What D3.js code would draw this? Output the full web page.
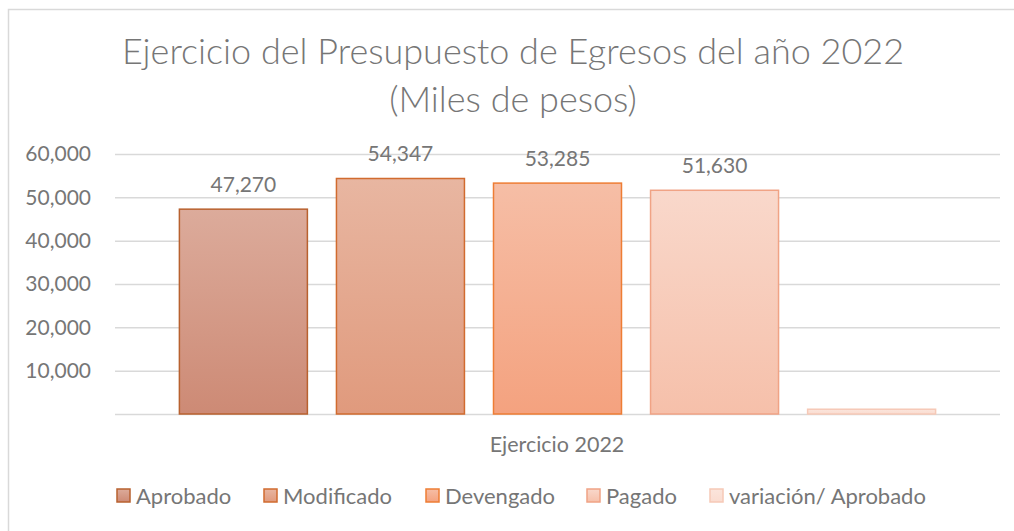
<!DOCTYPE html>
<html>
<head>
<meta charset="utf-8">
<script src="https://cdn.jsdelivr.net/npm/d3@7"></script>
<style>
  body { margin: 0; background: #fff; }
  svg text { font-family: Lato, "Open Sans", sans-serif; fill: #767676; }
</style>
</head>
<body>
<div id="chart"></div>
<script>
const series = ['Aprobado', 'Modificado', 'Devengado', 'Pagado', 'variación/ Aprobado']
const values = [47270, 54347, 53285, 51630, 1100]
const labels = ['47,270', '54,347', '53,285', '51,630', '']
const yTicks = [0, 10000, 20000, 30000, 40000, 50000, 60000]
const category = 'Ejercicio 2022'

const fillTop = ['#dcab9b', '#e8b6a1', '#f6bea6', '#f9d8cb', '#fbe5dc']
const fillBottom = ['#cd8a75', '#e09a7d', '#f4a27f', '#f6c0aa', '#fadcd0']
const strokes = ['#b8612f', '#d16b2f', '#ee7d34', '#f0a385', '#f6c9b7']

const width = 1014
const height = 531

const svg = d3.select('#chart')
    .append('svg')
    .attr('width', width)
    .attr('height', height)

const defs = svg.append('defs')
series.forEach((s, i) => {
    const g = defs.append('linearGradient')
        .attr('id', 'grad' + i)
        .attr('x1', 0).attr('y1', 0).attr('x2', 0).attr('y2', 1)
    g.append('stop').attr('offset', '0%').attr('stop-color', fillTop[i])
    g.append('stop').attr('offset', '100%').attr('stop-color', fillBottom[i])
})

// chart border
svg.append('rect')
    .attr('x', 8.5).attr('y', 9.5)
    .attr('width', 1020).attr('height', 540)
    .attr('fill', 'none')
    .attr('stroke', '#d9d9d9')
    .attr('stroke-width', 1.5)

// title
const title = svg.append('text')
    .attr('text-anchor', 'middle')
    .style('font-size', '36px')
    .style('font-weight', 300)
title.append('tspan').attr('x', 513).attr('y', 64).text('Ejercicio del Presupuesto de Egresos del año 2022')
title.append('tspan').attr('x', 513).attr('y', 112).text('(Miles de pesos)')

const xScale = d3.scaleBand()
    .domain(series)
    .range([115, 1000])
    .paddingInner(0.185)
    .paddingOuter(0.41)

const yScale = d3.scaleLinear()
    .domain([0, 60000])
    .range([414, 154])

const yAxis = d3.axisLeft(yScale)
    .tickValues(yTicks)
    .tickSize(-(1000 - 115))
    .tickPadding(24)
    .tickFormat(d => d === 0 ? '' : d3.format(',')(d))

const yG = svg.append('g')
    .attr('transform', 'translate(115, 0)')
    .call(yAxis)
yG.select('.domain').remove()
yG.selectAll('line').attr('stroke', '#d9d9d9').attr('stroke-width', 1.5)
yG.selectAll('text').style('font-size', '21px').attr('fill', '#767676')

svg.selectAll('rect.bar')
    .data(values)
    .enter()
    .append('rect')
    .attr('class', 'bar')
    .attr('x', (d, i) => xScale(series[i]))
    .attr('y', d => yScale(d))
    .attr('width', xScale.bandwidth())
    .attr('height', d => yScale(0) - yScale(d))
    .attr('fill', (d, i) => `url(#grad${i})`)
    .attr('stroke', (d, i) => strokes[i])
    .attr('stroke-width', 1.5)

svg.selectAll('text.lbl')
    .data(values)
    .enter()
    .append('text')
    .attr('class', 'lbl')
    .attr('x', (d, i) => xScale(series[i]) + xScale.bandwidth() / 2)
    .attr('y', d => yScale(d) - 17)
    .attr('text-anchor', 'middle')
    .style('font-size', '21px')
    .text((d, i) => labels[i])

svg.append('text')
    .attr('x', 557)
    .attr('y', 452)
    .attr('text-anchor', 'middle')
    .style('font-size', '21.5px')
    .text(category)

// legend
const legendX = [117, 264, 426, 587, 710]
const legend = svg.selectAll('g.leg')
    .data(series)
    .enter()
    .append('g')
    .attr('class', 'leg')
    .attr('transform', (d, i) => `translate(${legendX[i]}, 489)`)
legend.append('rect')
    .attr('width', 13).attr('height', 13)
    .attr('fill', (d, i) => `url(#grad${i})`)
    .attr('stroke', (d, i) => strokes[i])
    .attr('stroke-width', 1.5)
legend.append('text')
    .attr('x', 19)
    .attr('y', 15)
    .style('font-size', '22px')
    .text(d => d)
</script>
</body>
</html>
